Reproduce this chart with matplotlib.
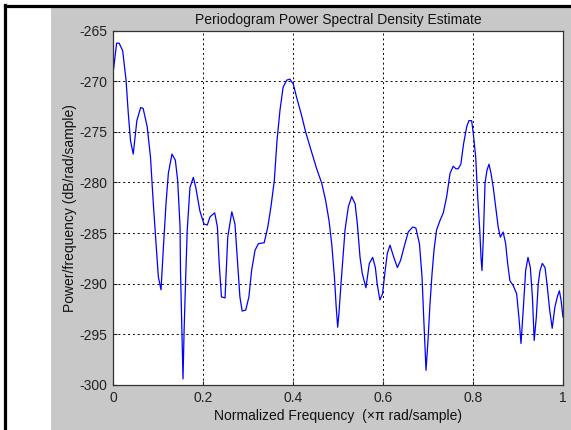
import numpy as np
import matplotlib
matplotlib.use('Agg')
import matplotlib.pyplot as plt
from matplotlib.patches import Rectangle
from matplotlib.lines import Line2D

plt.rcParams['font.family'] = ['Liberation Sans', 'DejaVu Sans']
plt.rcParams['axes.unicode_minus'] = False

# periodogram estimate, dB/rad/sample vs normalized frequency
freq = [0.0, 0.008, 0.0137, 0.0215, 0.029, 0.034, 0.039, 0.045, 0.053, 0.0615,
        0.067, 0.076, 0.0833, 0.0896, 0.0956, 0.1007, 0.1067, 0.112, 0.1178, 0.123,
        0.131, 0.1385, 0.1437, 0.149, 0.150, 0.153, 0.1556, 0.158, 0.162, 0.165,
        0.171, 0.1785, 0.184, 0.193, 0.202, 0.2096, 0.2156, 0.226, 0.232, 0.236,
        0.241, 0.249, 0.255, 0.264, 0.271, 0.277, 0.282, 0.287, 0.295, 0.302,
        0.308, 0.3156, 0.323, 0.336, 0.344, 0.351, 0.3585, 0.3644, 0.371, 0.378,
        0.386, 0.393, 0.4007, 0.408, 0.418, 0.428, 0.44, 0.4526, 0.464, 0.4726,
        0.48, 0.486, 0.492, 0.496, 0.4993, 0.502, 0.5067, 0.5156, 0.523, 0.5304,
        0.538, 0.543, 0.549, 0.554, 0.562, 0.5696, 0.577, 0.583, 0.587, 0.593,
        0.599, 0.604, 0.6096, 0.6156, 0.624, 0.632, 0.639, 0.6467, 0.656, 0.666,
        0.673, 0.681, 0.6867, 0.691, 0.6956, 0.700, 0.7044, 0.709, 0.7133, 0.719,
        0.7267, 0.734, 0.7415, 0.749, 0.756, 0.762, 0.767, 0.773, 0.779, 0.786,
        0.791, 0.797, 0.8007, 0.806, 0.8104, 0.815, 0.8178, 0.82, 0.823, 0.8267,
        0.831, 0.8356, 0.84, 0.845, 0.8504, 0.856, 0.8607, 0.867, 0.8726, 0.877,
        0.882, 0.8896, 0.897, 0.902, 0.9067, 0.912, 0.917, 0.9222, 0.9274, 0.932,
        0.936, 0.9407, 0.945, 0.949, 0.954, 0.96, 0.9644, 0.9704, 0.976, 0.982,
        0.988, 0.992, 0.9956, 1.0]
psd = [-269.3, -266.25, -266.25, -267.0, -269.9, -273.2, -275.9, -277.2, -273.9, -272.6,
       -272.7, -274.5, -277.5, -282.1, -286.05, -289.3, -290.6, -286.4, -282.1, -279.1,
       -277.2, -277.8, -279.8, -284.4, -288.7, -294.6, -299.4, -294.6, -288.7, -284.7,
       -280.5, -279.5, -280.5, -282.8, -284.1, -284.2, -283.4, -283.0, -284.4, -288.0,
       -291.3, -291.4, -285.4, -282.9, -284.1, -288.0, -291.3, -292.7, -292.6, -291.3,
       -288.7, -286.7, -286.05, -285.95, -284.4, -282.4, -279.8, -275.9, -272.9, -270.6,
       -269.9, -269.8, -270.3, -271.6, -273.2, -275.0, -276.8, -278.65, -280.1, -281.8,
       -283.75, -286.05, -289.3, -292.3, -294.3, -293.0, -290.0, -284.7, -282.4, -281.4,
       -282.1, -284.1, -287.4, -289.0, -290.4, -288.0, -287.4, -288.4, -290.0, -291.6,
       -291.0, -289.0, -287.0, -286.2, -287.4, -288.4, -287.7, -286.4, -284.9, -284.4,
       -284.5, -286.05, -289.3, -293.9, -298.55, -295.6, -292.0, -289.0, -286.7, -284.7,
       -283.75, -283.0, -281.4, -279.1, -278.4, -278.65, -278.65, -278.2, -276.2, -274.5,
       -273.9, -273.9, -275.2, -277.5, -281.4, -284.7, -287.4, -288.7, -285.4, -280.1,
       -278.8, -278.2, -279.1, -280.5, -282.4, -284.4, -285.4, -284.9, -286.05, -288.0,
       -289.7, -290.2, -291.0, -293.3, -295.9, -292.3, -288.7, -287.4, -288.4, -291.3,
       -295.6, -293.3, -290.0, -288.7, -288.0, -288.4, -290.0, -292.6, -294.4, -292.3,
       -291.2, -290.7, -291.6, -293.3]

xticks = [0, 0.2, 0.4, 0.6, 0.8, 1]
xticklabels = ['0', '0.2', '0.4', '0.6', '0.8', '1']
yticks = [-300, -295, -290, -285, -280, -275, -270, -265]

fig = plt.figure(figsize=(5.71, 4.30), dpi=100)
fig.patch.set_facecolor('white')

# grey window panel and the dark frame lines, kept behind the axes
fig.patches.append(Rectangle((51/571, 0), 1 - 51/571, (430 - 7)/430,
                             transform=fig.transFigure, facecolor='#c8c8c8',
                             edgecolor='none', zorder=-10))
fig.lines.append(Line2D([5/571, 1], [(430 - 5.5)/430] * 2, transform=fig.transFigure,
                        color='black', linewidth=2.3, zorder=-5))
fig.lines.append(Line2D([5/571] * 2, [0, (430 - 4.5)/430], transform=fig.transFigure,
                        color='black', linewidth=2.3, zorder=-5))

ax = fig.add_axes([113/571, 45/430, 450/571, 354.5/430])
ax.set_facecolor('white')
ax.plot(freq, psd, color='#0000ff', linewidth=0.9)

ax.set_xlim(0, 1)
ax.set_ylim(-300, -265)
ax.set_xticks(xticks)
ax.set_xticklabels(xticklabels)
ax.set_yticks(yticks)
ax.grid(True, color='black', linestyle=(0, (2, 3)), linewidth=0.7)
ax.tick_params(direction='in', length=3, labelsize=10, pad=4, colors='#222222')
for s in ax.spines.values():
    s.set_color('#333333')
    s.set_linewidth(0.9)

ax.set_title('Periodogram Power Spectral Density Estimate', fontsize=10, pad=5, color='#111111')
ax.set_xlabel('Normalized Frequency  (\u00d7\u03c0 rad/sample)', fontsize=10, labelpad=3, color='#111111')
ax.set_ylabel('Power/frequency (dB/rad/sample)', fontsize=10, labelpad=2, color='#111111')

fig.savefig('out.png', dpi=100, facecolor=fig.get_facecolor())
